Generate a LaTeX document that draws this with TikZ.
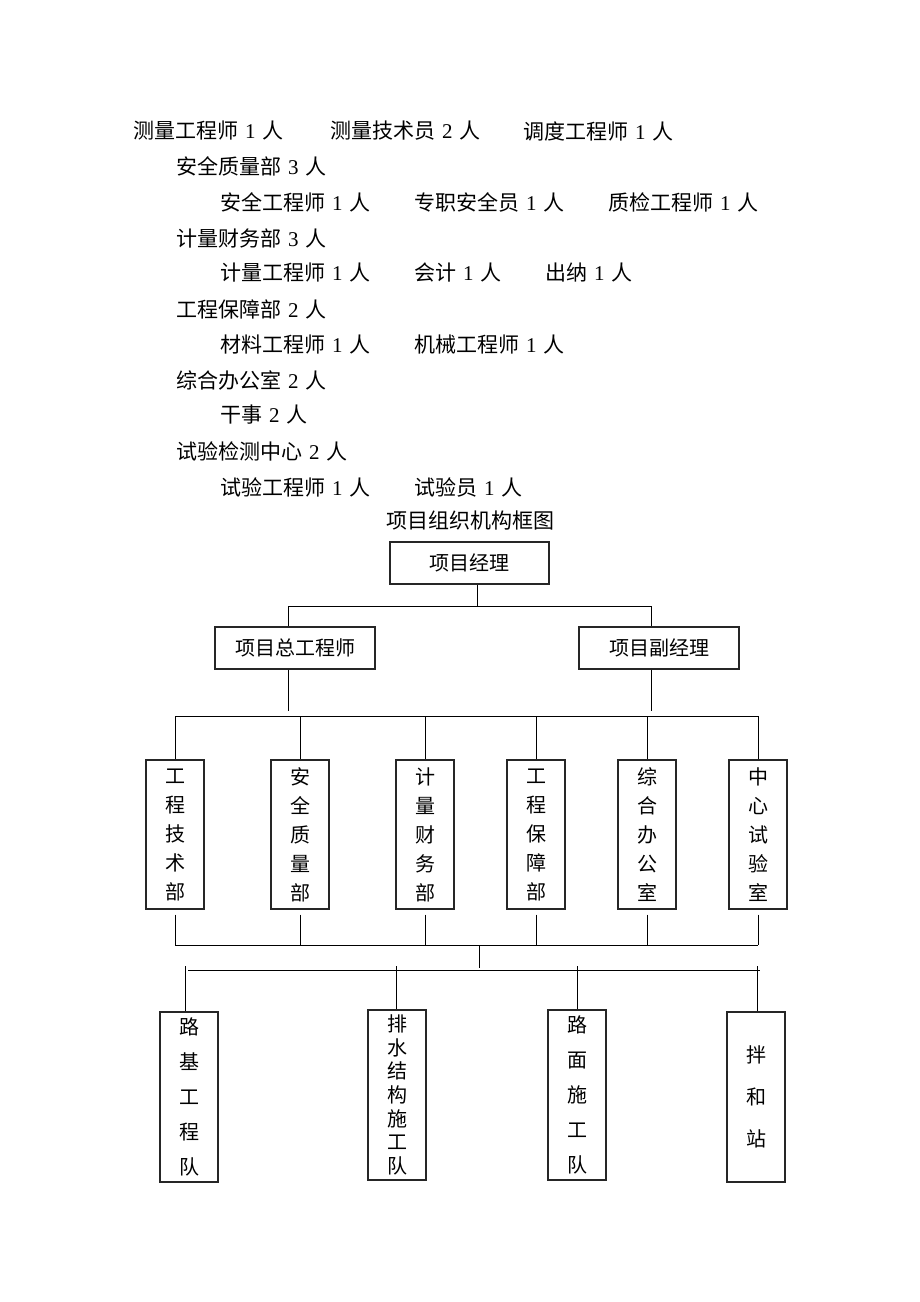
\documentclass[tikz,border=0pt]{standalone}
\usepackage{fontspec}
\setmainfont{Noto Sans CJK SC}
\newfontfamily\latin{Liberation Serif}
\usetikzlibrary{positioning}

% digits in a Times-like face
\newcommand{\dg}[1]{\hspace{7pt}{\latin #1}\hspace{7pt}}

\begin{document}
\begin{tikzpicture}[x=1pt, y=-1pt,
    % text styles
    txt/.style={anchor=west, inner sep=0pt, font=\fontsize{21}{21}\selectfont},
    % box styles
    topbox/.style={draw=black!85, line width=1.2pt, minimum width=160pt, minimum height=42pt,
        inner sep=0pt, font=\fontsize{20}{20}\selectfont},
    deptbox/.style={draw=black!85, line width=1.2pt, minimum width=58pt, minimum height=149pt,
        inner sep=0pt, align=center, font=\fontsize{20}{29}\selectfont},
    teambox/.style={deptbox, minimum height=170pt},
    % connector style
    link/.style={line width=1pt}
]
    \useasboundingbox (0,0) rectangle (920,1302);

    % Staff list
    \node[txt] (s1a) at (133,131) {测量工程师\dg{1}人};
    \node[txt] (s1b) at (330,131) {测量技术员\dg{2}人};
    \node[txt] (s1c) at (523,131) {调度工程师\dg{1}人};
    \node[txt] (s2)  at (176,166) {安全质量部\dg{3}人};
    \node[txt] (s3a) at (220,202) {安全工程师\dg{1}人};
    \node[txt] (s3b) at (414,202) {专职安全员\dg{1}人};
    \node[txt] (s3c) at (608,202) {质检工程师\dg{1}人};
    \node[txt] (s4)  at (176,238) {计量财务部\dg{3}人};
    \node[txt] (s5a) at (220,273) {计量工程师\dg{1}人};
    \node[txt] (s5b) at (414,273) {会计\dg{1}人};
    \node[txt] (s5c) at (545,273) {出纳\dg{1}人};
    \node[txt] (s6)  at (176,309) {工程保障部\dg{2}人};
    \node[txt] (s7a) at (220,345) {材料工程师\dg{1}人};
    \node[txt] (s7b) at (414,345) {机械工程师\dg{1}人};
    \node[txt] (s8)  at (176,380) {综合办公室\dg{2}人};
    \node[txt] (s9)  at (220,415) {干事\dg{2}人};
    \node[txt] (s10) at (176,451) {试验检测中心\dg{2}人};
    \node[txt] (s11a) at (220,487) {试验工程师\dg{1}人};
    \node[txt] (s11b) at (414,487) {试验员\dg{1}人};

    % Title
    \node[txt, anchor=center] (title) at (470,521) {项目组织机构框图};

    % Management
    \node[topbox, minimum width=159pt] (pm) at (469.5,563) {项目经理};
    \node[topbox] (chief) at (295,648) {项目总工程师};
    \node[topbox] (deputy) at (659,648) {项目副经理};

    % Departments
    \node[deptbox] (d1) at (175,834.5) {工\\程\\技\\术\\部};
    \node[deptbox] (d2) at (300,834.5) {安\\全\\质\\量\\部};
    \node[deptbox] (d3) at (425,834.5) {计\\量\\财\\务\\部};
    \node[deptbox] (d4) at (536,834.5) {工\\程\\保\\障\\部};
    \node[deptbox] (d5) at (647,834.5) {综\\合\\办\\公\\室};
    \node[deptbox] (d6) at (758,834.5) {中\\心\\试\\验\\室};

    % Work teams
    \node[teambox, font=\fontsize{20}{35}\selectfont] (t1) at (189,1097) {路\\基\\工\\程\\队};
    \node[teambox, font=\fontsize{20}{23.7}\selectfont] (t2) at (397,1095) {排\\水\\结\\构\\施\\工\\队};
    \node[teambox, font=\fontsize{20}{35}\selectfont] (t3) at (577,1095) {路\\面\\施\\工\\队};
    \node[teambox, font=\fontsize{20}{42}\selectfont] (t4) at (756,1097) {拌\\和\\站};

    % Junction points
    \coordinate (j0) at (477,606);
    \coordinate (jl) at (288,606);
    \coordinate (jr) at (651,606);
    \coordinate (ml) at (288,711);
    \coordinate (mr) at (651,711);
    \coordinate (bus1) at (0,716);
    \coordinate (bus2) at (0,945);
    \coordinate (k0) at (479,945);
    \coordinate (k1) at (479,968);
    \coordinate (bus3) at (0,970);

    % Manager to chief and deputy
    \draw[link] (pm.south -| j0) -- (j0);
    \draw[link] (jl) -- (jr);
    \draw[link] (jl) -- (chief.north -| jl);
    \draw[link] (jr) -- (deputy.north -| jr);

    % Chief and deputy to departments
    \draw[link] (chief.south -| ml) -- (ml);
    \draw[link] (deputy.south -| mr) -- (mr);
    \draw[link] (d1.north |- bus1) -- (d6.north |- bus1);
    \foreach \d in {d1,d2,d3,d4,d5,d6}
        \draw[link] (\d.north |- bus1) -- (\d.north);

    % Departments to work teams
    \foreach \d in {d1,d2,d3,d4,d5,d6}
        \draw[link] ([yshift=-5pt]\d.south) -- (\d.south |- bus2);
    \draw[link] (d1.south |- bus2) -- (d6.south |- bus2);
    \draw[link] (k0) -- (k1);
    \draw[link] ([xshift=-1pt]t1.north |- bus3) -- ([xshift=4pt]t4.north |- bus3);
    \foreach \t/\s in {t1/-4,t2/-1,t3/0,t4/1}
        \draw[link] ([xshift=\s pt, yshift=4pt]\t.north |- bus3) -- ([xshift=\s pt]\t.north);
\end{tikzpicture}
\end{document}
